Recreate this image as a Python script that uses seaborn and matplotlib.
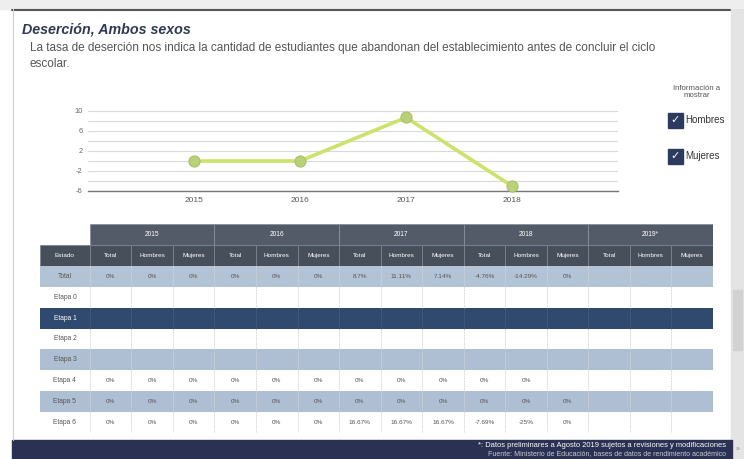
import numpy as np
import pandas as pd
import matplotlib
matplotlib.use("Agg")
import matplotlib.pyplot as plt
from matplotlib.patches import Rectangle
import seaborn as sns

# Line chart data (tasa de deserción, ambos sexos)
years = [2015, 2016, 2017, 2018]
desercion = [0.0, 0.0, 8.7, -5.0]
y_ticks = [10, 6, 2, -2, -6]

# Table data
table_years = ["2015", "2016", "2017", "2018", "2019*"]
sub_cols = ["Total", "Hombres", "Mujeres"]
row_labels = ["Total", "Etapa 0", "Etapa 1", "Etapa 2", "Etapa 3", "Etapa 4", "Etapa 5", "Etapa 6"]
row_values = [
    ["0%", "0%", "0%", "0%", "0%", "0%", "8.7%", "11.11%", "7.14%", "-4.76%", "-14.29%", "0%", "", "", ""],
    [""] * 15,
    [""] * 15,
    [""] * 15,
    [""] * 15,
    ["0%"] * 11 + [""] * 4,
    ["0%"] * 12 + [""] * 3,
    ["0%"] * 6 + ["16.67%", "16.67%", "16.67%", "-7.69%", "-25%", "0%", "", "", ""],
]
row_colors = ["#b3c3d6", "white", "#2f4a6e", "white", "#aebfd3", "white", "#aebfd3", "white"]

W, H = 744, 459


def px(x0, y0, x1, y1):
    # convert a pixel box to figure fractions
    return [x0 / W, 1 - y1 / H, (x1 - x0) / W, (y1 - y0) / H]


sns.set_theme(style="white")
plt.rcParams["font.family"] = ["Liberation Sans", "DejaVu Sans"]
plt.rcParams["axes.unicode_minus"] = False

fig = plt.figure(figsize=(W / 100, H / 100), dpi=100, facecolor="white")

# Background / frame layer
bg = fig.add_axes([0, 0, 1, 1])
bg.set_xlim(0, W)
bg.set_ylim(H, 0)
bg.axis("off")
bg.add_patch(Rectangle((0, 0), W, 9, color="#eeeeee"))
bg.plot([12, 730], [9.5, 9.5], color="#555555", lw=1.5)
bg.plot([12.5, 12.5], [9, 440], color="#cfcfcf", lw=0.8)
bg.add_patch(Rectangle((731, 9), 13, 450, color="#e4e4e4"))
bg.add_patch(Rectangle((733, 290), 9, 60, color="#d2d2d2"))
bg.add_patch(Rectangle((12, 440), 720, 19, color="#2b3152"))
bg.text(726, 445.5, "*: Datos preliminares a Agosto 2019 sujetos a revisiones y modificaciones",
        ha="right", va="center", fontsize=5.4, color="white")
bg.text(726, 453.5, "Fuente: Ministerio de Educación, bases de datos de rendimiento académico",
        ha="right", va="center", fontsize=5.0, color="#c8c8d8")
bg.text(738, 449, "»", ha="center", va="center", fontsize=5, color="#888888")

bg.text(22, 30, "Deserción, Ambos sexos", fontsize=10.3, fontweight="bold",
        fontstyle="italic", color="#2e3a55", va="center")
bg.text(30, 48, "La tasa de deserción nos indica la cantidad de estudiantes que abandonan "
        "del establecimiento antes de concluir el ciclo", fontsize=8.5, color="#555555", va="center")
bg.text(30, 64, "escolar.", fontsize=8.5, color="#555555", va="center")

# Legend / filter box
bg.text(697, 92, "Información a\nmostrar", fontsize=5.6, color="#555555",
        ha="center", va="center", linespacing=1.1)
for label, yc in zip(["Hombres", "Mujeres"], [120, 156]):
    bg.add_patch(Rectangle((668, yc - 7.5), 15, 15, color="#2b3a5e"))
    bg.text(675.5, yc, "✓", fontsize=8, color="white", ha="center", va="center",
            family=["DejaVu Sans"], fontweight="bold")
    bg.text(685, yc, label, fontsize=7, color="#333333", va="center")

# Line chart
ax = fig.add_axes(px(88, 111, 618, 191))
df = pd.DataFrame({"Año": years, "Deserción": desercion})
sns.lineplot(data=df, x="Año", y="Deserción", ax=ax, color="#cbe36a", linewidth=2.6,
             marker="o", markersize=8, markerfacecolor="#b9d27a",
             markeredgecolor="#a9c268", markeredgewidth=0.8, zorder=3, clip_on=False)
ax.set_xlim(2014, 2019)
ax.set_ylim(-6, 10)
ax.set_yticks(y_ticks)
ax.set_yticks(np.arange(-6, 11, 2), minor=True)
ax.set_xticks(years)
ax.set_xticklabels([str(y) for y in years])
ax.grid(True, which="both", axis="y", color="#d9d9d9", lw=0.8)
ax.grid(False, axis="x")
ax.set_xlabel("")
ax.set_ylabel("")
for s in ["top", "right", "left"]:
    ax.spines[s].set_visible(False)
ax.spines["bottom"].set_color("#777777")
ax.spines["bottom"].set_linewidth(1.0)
ax.tick_params(axis="y", labelsize=5.4, colors="#666666", pad=4, length=0)
ax.tick_params(axis="x", labelsize=6.0, colors="#555555", pad=4, length=0)
ax.patch.set_alpha(0)

# Table
tb = fig.add_axes(px(40, 224, 713, 433))
col_w = [1.2] + [1.0] * 15
edges = np.concatenate([[0], np.cumsum(col_w)])
n_rows = len(row_labels) + 2
tb.set_xlim(0, edges[-1])
tb.set_ylim(n_rows, 0)
tb.axis("off")

# year header row
for i, yr in enumerate(table_years):
    x0 = edges[1 + 3 * i]
    x1 = edges[4 + 3 * i]
    tb.add_patch(Rectangle((x0, 0), x1 - x0, 1, facecolor="#535b68", edgecolor="#8a909a", lw=0.6))
    tb.text((x0 + x1) / 2, 0.5, yr, ha="center", va="center", fontsize=4.8, color="white")

# sub header row
sub_labels = ["Estado"] + sub_cols * len(table_years)
for j, lab in enumerate(sub_labels):
    x0, x1 = edges[j], edges[j + 1]
    tb.add_patch(Rectangle((x0, 1), x1 - x0, 1, facecolor="#474f5b", edgecolor="#7d848e", lw=0.6))
    tb.text((x0 + x1) / 2, 1.5, lab, ha="center", va="center", fontsize=4.6, color="white")

# body
for r, (lab, vals, col) in enumerate(zip(row_labels, row_values, row_colors)):
    y0 = r + 2
    txt_col = "white" if col == "#2f4a6e" else "#555555"
    tb.add_patch(Rectangle((0, y0), edges[-1], 1, facecolor=col, edgecolor="none"))
    for j in range(1, len(edges) - 1):
        tb.plot([edges[j], edges[j]], [y0, y0 + 1], color="#cfd4dc" if col != "#2f4a6e" else "#46607f",
                lw=0.6, ls=(0, (2, 1)))
    tb.text(edges[1] / 2, y0 + 0.5, lab, ha="center", va="center", fontsize=4.8, color=txt_col)
    for j, v in enumerate(vals):
        tb.text((edges[j + 1] + edges[j + 2]) / 2, y0 + 0.5, v, ha="center", va="center",
                fontsize=4.6, color=txt_col)

fig.savefig("out.png", dpi=100, facecolor="white")
